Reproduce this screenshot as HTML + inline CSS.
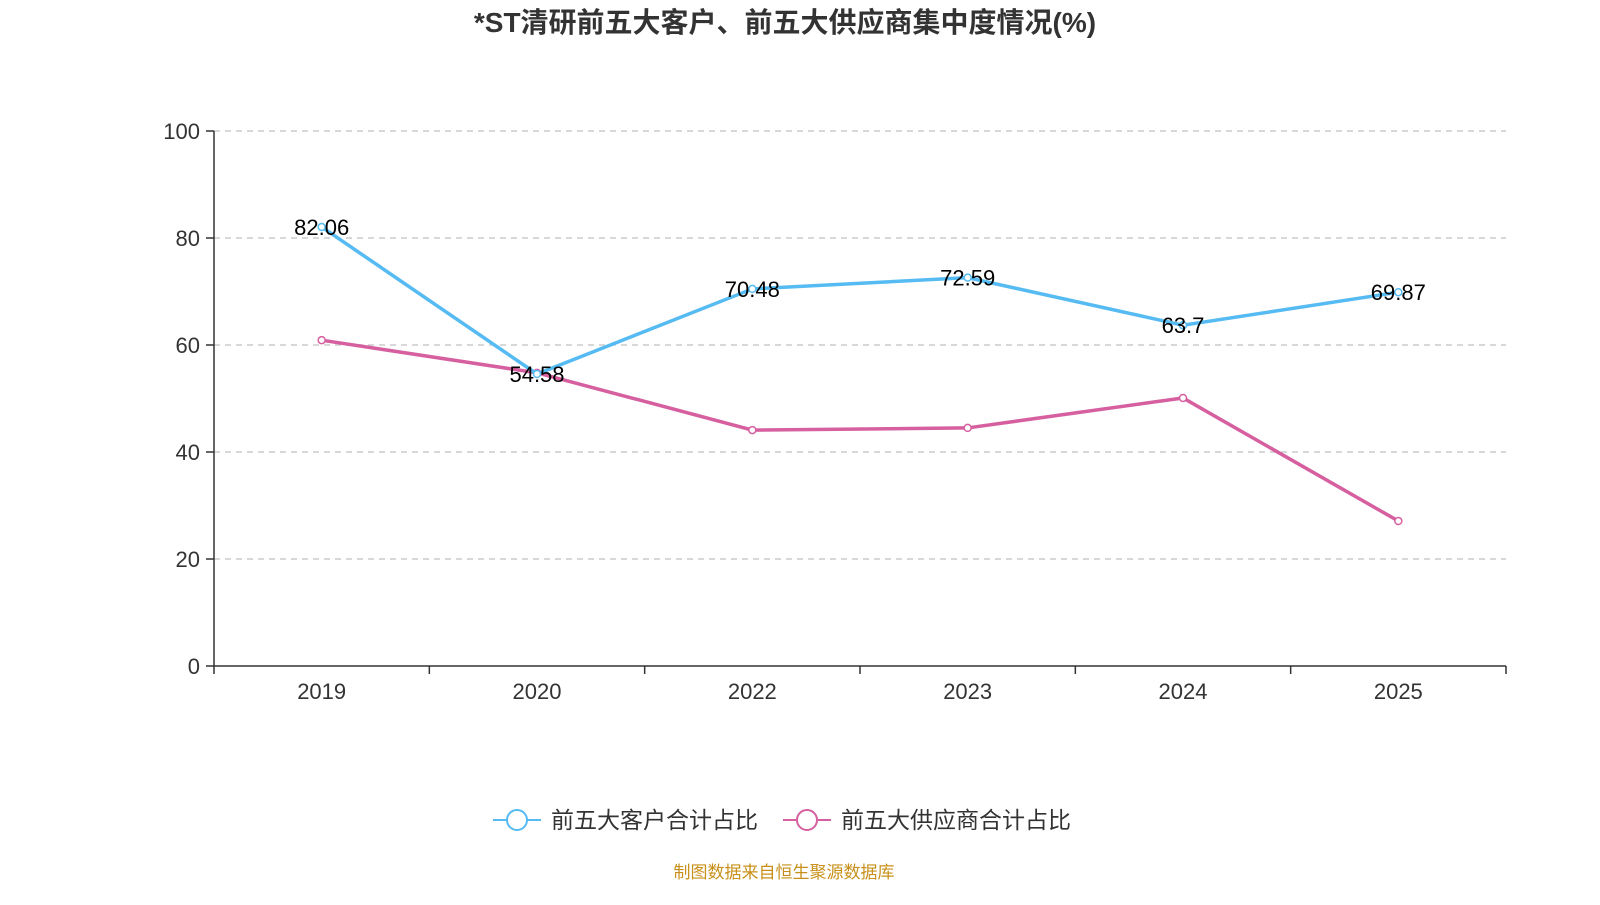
<!DOCTYPE html>
<html><head><meta charset="utf-8"><style>
body{margin:0;background:#fff;width:1600px;height:900px;overflow:hidden;font-family:"Liberation Sans","Noto Sans CJK SC",sans-serif}
</style></head><body>
<svg id="c" width="1600" height="900" xmlns="http://www.w3.org/2000/svg"></svg>
<script>
const categories=["2019","2020","2022","2023","2024","2025"];
const customerValues=[82.06,54.58,70.48,72.59,63.7,69.87];
const supplierValues=[60.9,54.8,44.1,44.5,50.1,27.1];
const yTicks=[0,20,40,60,80,100];
const svg=document.getElementById('c');
const NS='http://www.w3.org/2000/svg';
const L=214,R=1506,T=131,B=666;
const bw=(R-L)/categories.length;
const xs=i=>L+bw*(i+0.5);
const ys=v=>B-(v/100)*(B-T);
function mk(tag,attrs,name,txt){const e=document.createElementNS(NS,tag);for(const k in attrs)e.setAttribute(k,attrs[k]);


if(txt!==undefined)e.textContent=txt;svg.appendChild(e);return e;}
const F='"Liberation Sans","Noto Sans CJK SC",sans-serif';
mk('text',{x:785,y:32,'text-anchor':'middle','font-size':28,'font-weight':'bold',fill:'#333','font-family':F},'chart-title','*ST清研前五大客户、前五大供应商集中度情况(%)');
yTicks.forEach(t=>{const y=ys(t);
if(t>0)mk('line',{x1:L,x2:R,y1:y,y2:y,stroke:'#ccc','stroke-dasharray':'6,5','stroke-width':1.5},'grid-line');
mk('line',{x1:L-8,x2:L,y1:y,y2:y,stroke:'#333','stroke-width':1.5},'y-tick');
mk('text',{x:L-14,y:y+8,'text-anchor':'end','font-size':22,fill:'#333','font-family':F},'y-tick-label',String(t));});
mk('line',{x1:L,x2:L,y1:T,y2:B,stroke:'#333','stroke-width':1.5},'y-axis');
mk('line',{x1:L,x2:R,y1:B,y2:B,stroke:'#333','stroke-width':1.5},'x-axis');
for(let i=0;i<=categories.length;i++){const x=L+bw*i;mk('line',{x1:x,x2:x,y1:B,y2:B+8,stroke:'#333','stroke-width':1.5},'x-tick');}
categories.forEach((c,i)=>mk('text',{x:xs(i),y:699,'text-anchor':'middle','font-size':22,fill:'#333','font-family':F},'x-tick-label',c));
function series(vals,color,name,labels){
mk('polyline',{points:vals.map((v,i)=>xs(i)+','+ys(v)).join(' '),fill:'none',stroke:color,'stroke-width':3.5},name+'-line');
vals.forEach((v,i)=>{mk('circle',{cx:xs(i),cy:ys(v),r:3.5,fill:'#fff',stroke:color,'stroke-width':1.5},name+'-point');
if(labels)mk('text',{x:xs(i),y:ys(v)+8,'text-anchor':'middle','font-size':22,fill:'#000','font-family':F},name+'-value-label',String(v));});}
series(supplierValues,'#d6609f','supplier',false);
series(customerValues,'#55bbf2','customer',true);
function leg(x,color,label,name){mk('line',{x1:x,x2:x+48,y1:820,y2:820,stroke:color,'stroke-width':2},name+'-line');
mk('circle',{cx:x+24,cy:820,r:10,fill:'#fff',stroke:color,'stroke-width':2},name+'-marker');
mk('text',{x:x+58,y:828,'font-size':23,fill:'#333','font-family':F},name+'-label',label);}
leg(493,'#55bbf2','前五大客户合计占比','legend-customer');
leg(783,'#d6609f','前五大供应商合计占比','legend-supplier');
mk('text',{x:784,y:878,'text-anchor':'middle','font-size':17,fill:'#c8901a','font-family':F},'source-note','制图数据来自恒生聚源数据库');
</script>
</body></html>
